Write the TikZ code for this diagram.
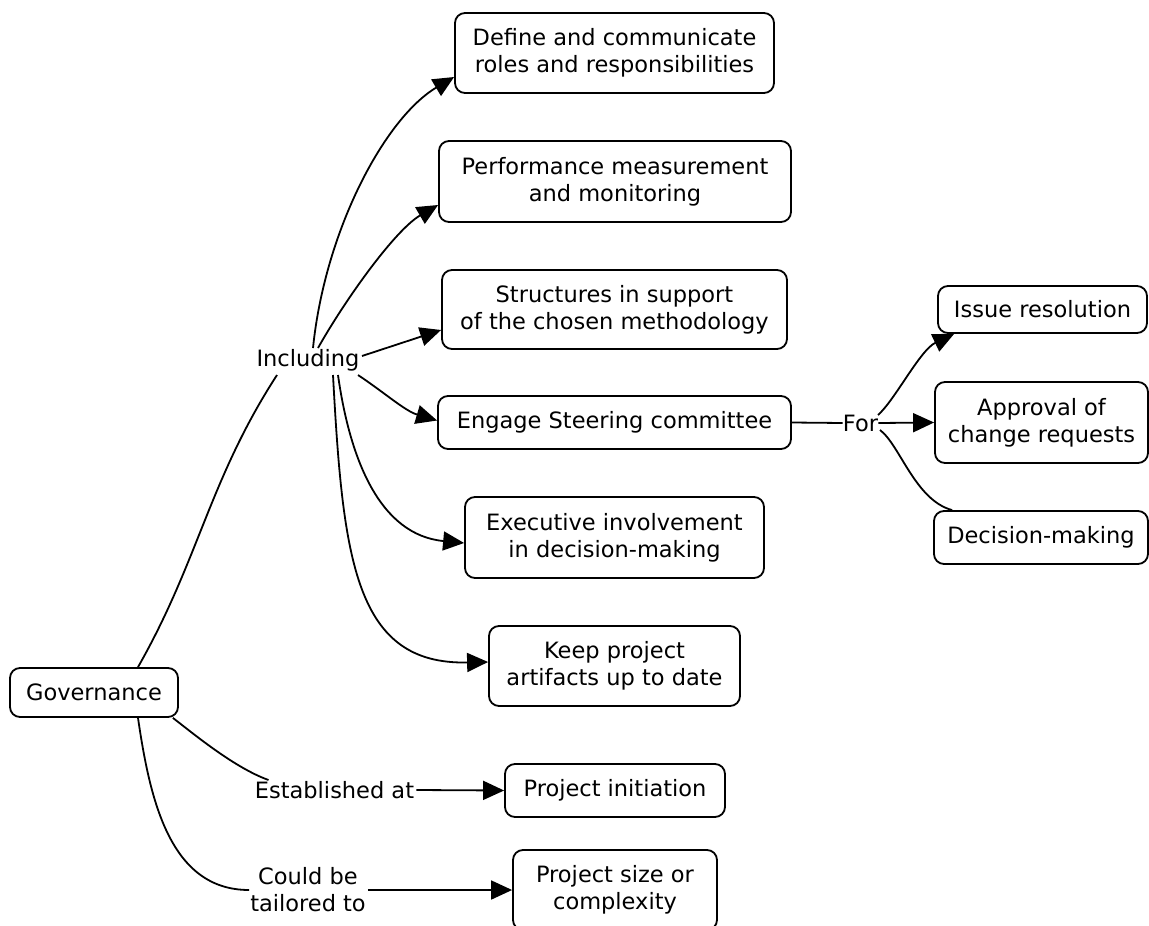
\documentclass[tikz,border=0pt]{standalone}
\usepackage{fontspec}
\setmainfont{DejaVu Sans}
\usetikzlibrary{arrows.meta,calc}
\newcommand{\dgfont}{\fontsize{22.5}{27}\selectfont}
\begin{document}
\begin{tikzpicture}[x=1pt,y=-1pt,
  box/.style={draw, line width=1.8pt, rounded corners=10pt, align=center, inner sep=0pt, font=\dgfont},
  lbl/.style={align=center, inner sep=0pt, font=\dgfont},
  conn/.style={line width=1.8pt},
  arr/.style={conn, -{Triangle[length=21pt,width=19pt]}}
]
\fill[white] (0,0) rectangle (1149,926);
\useasboundingbox (0,0) rectangle (1149,926);
\clip (0,0) rectangle (1149,926);

% boxes
\node[box, minimum width=319pt, minimum height=80pt] (define) at (614.5,53) {Define and communicate\\roles and responsibilities};
\node[box, minimum width=352pt, minimum height=81pt] (perf) at (615,181.5) {Performance measurement\\and monitoring};
\node[box, minimum width=345pt, minimum height=79pt] (struct) at (614.5,309.5) {Structures in support\\of the chosen methodology};
\node[box, minimum width=353pt, minimum height=53pt] (engage) at (614.5,422.5) {Engage Steering committee};
\node[box, minimum width=299pt, minimum height=81pt] (exec) at (614.5,537.5) {Executive involvement\\in decision-making};
\node[box, minimum width=251pt, minimum height=80pt] (keep) at (614.5,666) {Keep project\\artifacts up to date};
\node[box, minimum width=168pt, minimum height=49pt] (gov) at (94,692.5) {Governance};
\node[box, minimum width=220pt, minimum height=53pt] (init) at (615,790.5) {Project initiation};
\node[box, minimum width=204pt, minimum height=80pt] (size) at (615,890) {Project size or\\complexity};
\node[box, minimum width=209pt, minimum height=47pt] (issue) at (1042.5,309.5) {Issue resolution};
\node[box, minimum width=213pt, minimum height=81pt] (approval) at (1041.5,422.5) {Approval of\\change requests};
\node[box, minimum width=214pt, minimum height=53pt] (decision) at (1041,537.5) {Decision-making};

% labels
\node[lbl] (incl) at (308,360) {Including};
\node[lbl] (for) at (860.5,423) {For};
\node[lbl] (est) at (334.5,790) {Established at};
\node[lbl] (could) at (308,890) {Could be\\tailored to};

% connectors
\draw[conn] ($(gov.north)+(44,0)$) .. controls (199,560) and (209,480) .. ($(incl)+(-31,15)$);
\draw[arr] ($(incl)+(5,-12)$) .. controls (325,230) and (385,118) .. ($(define.west)+(0,24)$);
\draw[arr] ($(incl)+(10,-12)$) .. controls (345,300) and (395,230) .. ($(perf.west)+(0,23.5)$);
\draw[arr] ($(incl)+(54,-4)$) -- ($(struct.west)+(0,20.5)$);
\draw[arr] ($(incl)+(50,15)$) .. controls (385,393) and (405,411) .. ($(engage.west)+(0,-2)$);
\draw[arr] ($(incl)+(30,15)$) .. controls (350,460) and (380,535) .. ($(exec.west)+(0,5.5)$);
\draw[arr] ($(incl)+(25,15)$) .. controls (343,560) and (355,665) .. ($(keep.west)+(0,-4)$);

\draw[conn] ($(gov.south east)+(-6,0)$) .. controls (195,735) and (235,768) .. ($(est)+(-66,-10)$);
\draw[arr] ($(est.east)+(2,0)$) -- (init.west);
\draw[conn] ($(gov.south)+(44,0)$) .. controls (150,800) and (170,890) .. ($(could.west)+(-1,0)$);
\draw[arr] ($(could.east)+(2,0)$) -- (size.west);

\draw[conn] (engage.east) -- (for.west);
\draw[arr] (for.east) -- (approval.west);
\draw[arr] ($(for)+(17.5,-8)$) .. controls (895,400) and (920,350) .. ($(issue.south west)+(17,0)$);
\draw[conn] ($(for)+(19.5,7)$) .. controls (900,445) and (915,500) .. ($(decision.north west)+(19,0)$);
\end{tikzpicture}
\end{document}
